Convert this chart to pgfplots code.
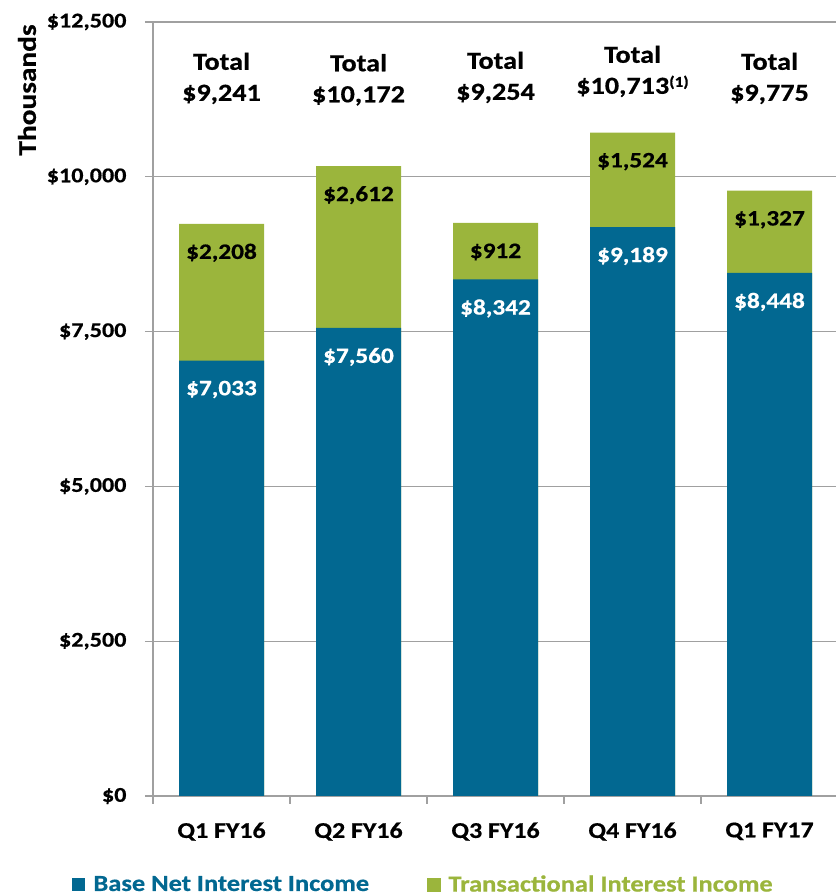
\documentclass[border=0pt]{standalone}
\usepackage{pgfplots}
\pgfplotsset{compat=1.18}
\usepackage{fontspec}
\setmainfont{Carlito}[FakeStretch=1.15, BoldFeatures={FakeBold=0.6}]
\definecolor{cblue}{RGB}{2,104,145}
\definecolor{cgreen}{RGB}{155,181,60}
\definecolor{cgrid}{RGB}{160,160,160}
\begin{document}
\begin{tikzpicture}[font=\bfseries]
\path[use as bounding box] (0,0) rectangle (835pt,896pt);
\begin{axis}[
 at={(153pt,100pt)}, anchor=south west, scale only axis, width=685pt, height=774pt,
 ybar, bar width=85pt,
 xmin=-0.5, xmax=4.5, ymin=0, ymax=12500,
 axis x line*=bottom, axis y line*=left,
 axis line style={cgrid, line width=1.3pt},
 ytick={0,2500,5000,7500,10000,12500},
 yticklabels={{\$0},{\$2,500},{\$5,000},{\$7,500},{\$10,000},{\$12,500}},
 ymajorgrids, grid style={cgrid, line width=1.2pt},
 xtick={-0.5,0.5,1.5,2.5,3.5,4.5},
 xticklabels={},
 extra x ticks={0,1,2,3,4},
 extra x tick labels={Q1 FY16,Q2 FY16,Q3 FY16,Q4 FY16,Q1 FY17},
 extra x tick style={major tick length=0pt, xticklabel style={font=\bfseries\fontsize{22.5}{22.5}\selectfont, yshift=-23pt}},
 tick align=outside, major tick length=8pt,
 tick style={cgrid, line width=1.2pt},
 /pgf/number format/assume math mode=true,
 yticklabel style={font=\bfseries\fontsize{21}{21}\selectfont, xshift=-15pt},
 legend style={at={(0.395,-0.114)}, anchor=center, draw=none, fill=none,
   legend columns=2, font=\bfseries\fontsize{23}{23}\selectfont,
   /tikz/every odd column/.append style={column sep=6pt},
   /tikz/every even column/.append style={column sep=56pt}},
]
% transactional segment drawn from 0 to the total, base drawn over it
\addplot[bar shift=0pt, fill=cgreen, draw=none, forget plot,
  point meta=explicit symbolic,
  nodes near coords={\$\pgfplotspointmeta},
  nodes near coords style={black, anchor=center, yshift=-29pt, font=\bfseries\fontsize{22}{22}\selectfont}]
 table[meta=lab] {
x y lab
0 9241 2,208
1 10172 2,612
2 9254 912
3 10713 1,524
4 9775 1,327
};
\addplot[bar shift=0pt, fill=cblue, draw=none,
  legend image code/.code={\fill[cblue] (0pt,-7pt) rectangle (13pt,6pt);},
  point meta=explicit symbolic,
  nodes near coords={\$\pgfplotspointmeta},
  nodes near coords style={white, anchor=center, yshift=-29pt, font=\bfseries\fontsize{22}{22}\selectfont}]
 table[meta=lab] {
x y lab
0 7033 7,033
1 7560 7,560
2 8342 8,342
3 9189 9,189
4 8448 8,448
};
\addlegendimage{legend image code/.code={\fill[cgreen] (0pt,-7pt) rectangle (13pt,6pt);}}
\legend{\textcolor{cblue}{Base Net Interest Income},\textcolor{cgreen}{Transactional Interest Income}}
\node[align=center, font=\bfseries\fontsize{24.5}{31}\selectfont] at (axis cs:0,11590) {Total\\\$9,241};
\node[align=center, font=\bfseries\fontsize{24.5}{31}\selectfont] at (axis cs:1,11566) {Total\\\$10,172};
\node[align=center, font=\bfseries\fontsize{24.5}{31}\selectfont] at (axis cs:2,11606) {Total\\\$9,254};
\node[align=center, font=\bfseries\fontsize{24.5}{31}\selectfont] at (axis cs:3,11703) {Total\\\$10,713{\fontsize{15}{15}\selectfont\raisebox{7pt}{(1)}}};
\node[align=center, font=\bfseries\fontsize{24.5}{31}\selectfont] at (axis cs:4,11590) {Total\\\$9,775};
\end{axis}
\node[rotate=90, font=\bfseries\fontsize{25.5}{25.5}\selectfont] at (27pt,806pt) {Thousands};
\end{tikzpicture}
\end{document}
